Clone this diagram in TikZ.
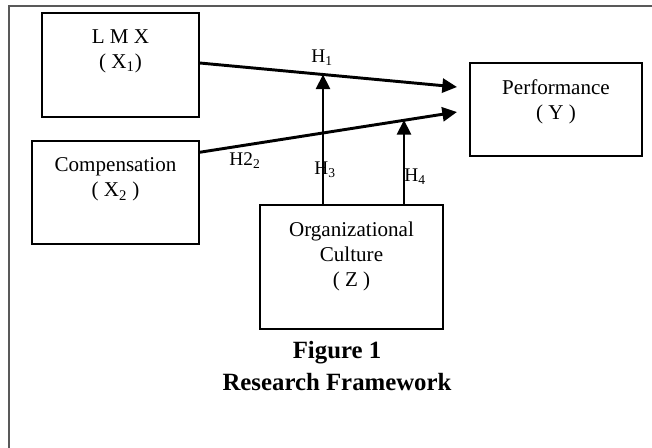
\documentclass[tikz,border=0pt]{standalone}
\usepackage{fontspec}
\setmainfont{Liberation Serif}
\usetikzlibrary{arrows.meta,positioning}

\tikzset{
  box/.style={draw=black, line width=1.1pt},
  boxtext/.style={align=center, inner sep=0pt, font=\fontsize{15.8}{18.8}\selectfont},
  hyp/.style={-{Triangle[length=11pt,width=10.5pt]}, line width=2.2pt},
  hlabel/.style={inner sep=0pt, font=\fontsize{14.5}{17}\selectfont},
}

\begin{document}
\begin{tikzpicture}[x=0.75pt, y=-0.75pt]
    \useasboundingbox (0,0) rectangle (652,448);
    \draw[gray!70!black, line width=1.5pt] (9,448) -- (9,6) -- (652,6);

    % variables
    \node[box, minimum width=117.75pt, minimum height=78pt] (lmx) at (120.5,65) {};
    \node[boxtext, below=13pt of lmx.north] (lmxt) {L M X\\( X\textsubscript{1})};

    \node[box, minimum width=125.25pt, minimum height=77.25pt] (comp) at (115.5,192.5) {};
    \node[boxtext, below=13pt of comp.north] (compt) {Compensation\\( X\textsubscript{2} )};

    \node[box, minimum width=137.25pt, minimum height=93pt] (org) at (351.5,267) {};
    \node[boxtext, below=13pt of org.north] (orgt) {Organizational\\Culture\\( Z )};

    \node[box, minimum width=129pt, minimum height=69.75pt] (perf) at (556,109.5) {};
    \node[boxtext, below=13pt of perf.north] (perft) {Performance\\( Y )};

    % hypotheses
    \coordinate (t1) at (457,87);
    \coordinate (t2) at (457,112);
    \coordinate (m3) at (323,74.5);
    \coordinate (m4) at (404,120);

    \node[hlabel] (h1) at (322,58) {H\textsubscript{1}};
    \node[hlabel] (h2) at (245,161) {H2\textsubscript{2}};
    \node[hlabel] (h3) at (325,170) {H\textsubscript{3}};
    \node[hlabel] (h4) at (415,177) {H\textsubscript{4}};

    \draw[hyp] ([yshift=1.5pt]lmx.east) -- (t1);
    \draw[hyp] ([yshift=-9pt]comp.north east) -- (t2);
    \draw[hyp] (m3 |- org.north) -- (m3);
    \draw[hyp] (m4 |- org.north) -- (m4);

    \node[align=center, inner sep=0pt, font=\fontsize{18.6}{23.3}\selectfont\bfseries] (cap) at (337,366) {Figure 1\\Research Framework};
\end{tikzpicture}
\end{document}
